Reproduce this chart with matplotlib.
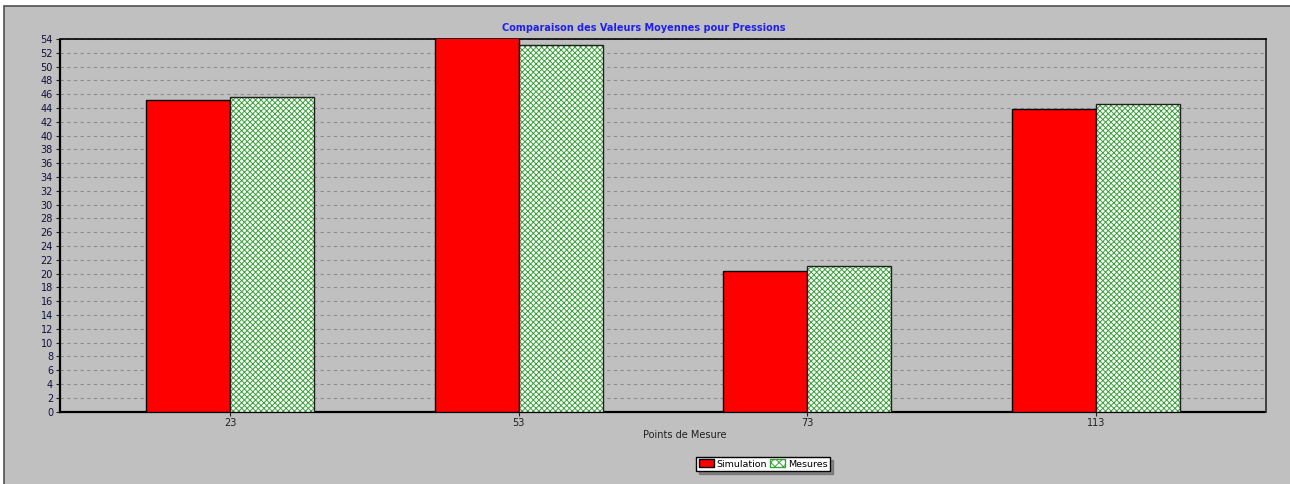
import matplotlib.pyplot as plt
import numpy as np
from matplotlib.patches import Rectangle, Patch

# ------------------------------------------------------------
# DATA
# ------------------------------------------------------------
points = ['23', '53', '73', '113']
simulation = [45.1, 54.3, 20.4, 43.9]
mesures = [45.6, 53.1, 21.1, 44.6]

BG = '#c0c0c0'
HATCH_GREEN = '#3aa03a'

plt.rcParams['hatch.linewidth'] = 0.7

fig = plt.figure(figsize=(12.9, 4.84), dpi=100)
fig.patch.set_facecolor('white')

# grey panel with a thin dark border (top/left)
frame = Rectangle((4 / 1290, -0.01), 1.02, 1 - 6 / 484 + 0.01, transform=fig.transFigure,
                  facecolor=BG, edgecolor='#505050', linewidth=1.2, zorder=-10)
fig.patches.append(frame)

ax = fig.add_axes([60 / 1290, 1 - 411.5 / 484, 1206 / 1290, 372.5 / 484])
ax.set_facecolor(BG)

x = np.arange(len(points))
w = 0.291

ax.bar(x - w / 2, simulation, width=w, color='red', edgecolor='black', linewidth=1, zorder=3)
# hatched bars: green hatch on white, then black outline on top
ax.bar(x + w / 2, mesures, width=w, color='white', edgecolor=HATCH_GREEN, hatch='xxxxxx',
       linewidth=0, zorder=3)
ax.bar(x + w / 2, mesures, width=w, fill=False, edgecolor='#202020', linewidth=1, zorder=4)

ax.set_xlim(-0.589, 3.589)
ax.set_ylim(0, 54)
ax.set_yticks(np.arange(0, 55, 2))
ax.set_xticks(x)
ax.set_xticklabels(points)
ax.tick_params(axis='both', labelsize=7, length=3, colors='#202020', pad=2)
ax.tick_params(axis='y', labelcolor='#101040')

ax.grid(axis='y', color='#8c8c8c', linestyle=(0, (3, 3)), linewidth=0.8, zorder=1)

for side in ['bottom', 'left']:
    ax.spines[side].set_linestyle((0, (2, 1)))
    ax.spines[side].set_linewidth(1.6)
ax.spines['top'].set_linewidth(1.2)
ax.spines['right'].set_linewidth(1.4)
ax.spines['right'].set_color('#404040')

fig.text(644 / 1290, 1 - 28 / 484, 'Comparaison des Valeurs Moyennes pour Pressions',
         ha='center', va='center', fontsize=7, color='#2020ee', fontweight='bold')
fig.text(685 / 1290, 1 - 435 / 484, 'Points de Mesure', ha='center', va='center',
         fontsize=7, color='#202020')

handles = [Patch(facecolor='red', edgecolor='black', label='Simulation'),
           Patch(facecolor='white', edgecolor=HATCH_GREEN, hatch='xxxx', label='Mesures')]
leg = fig.legend(handles=handles, loc='center', bbox_to_anchor=(763 / 1290, 1 - 464 / 484),
                 ncol=2, fontsize=6.8, frameon=True, fancybox=False, shadow=True,
                 edgecolor='black', facecolor='white', handlelength=1.6, handleheight=0.9,
                 handletextpad=0.3, columnspacing=0.3, borderpad=0.25, borderaxespad=0)
leg.get_frame().set_linewidth(1.0)

plt.savefig('out.png', dpi=100, facecolor=fig.get_facecolor())
